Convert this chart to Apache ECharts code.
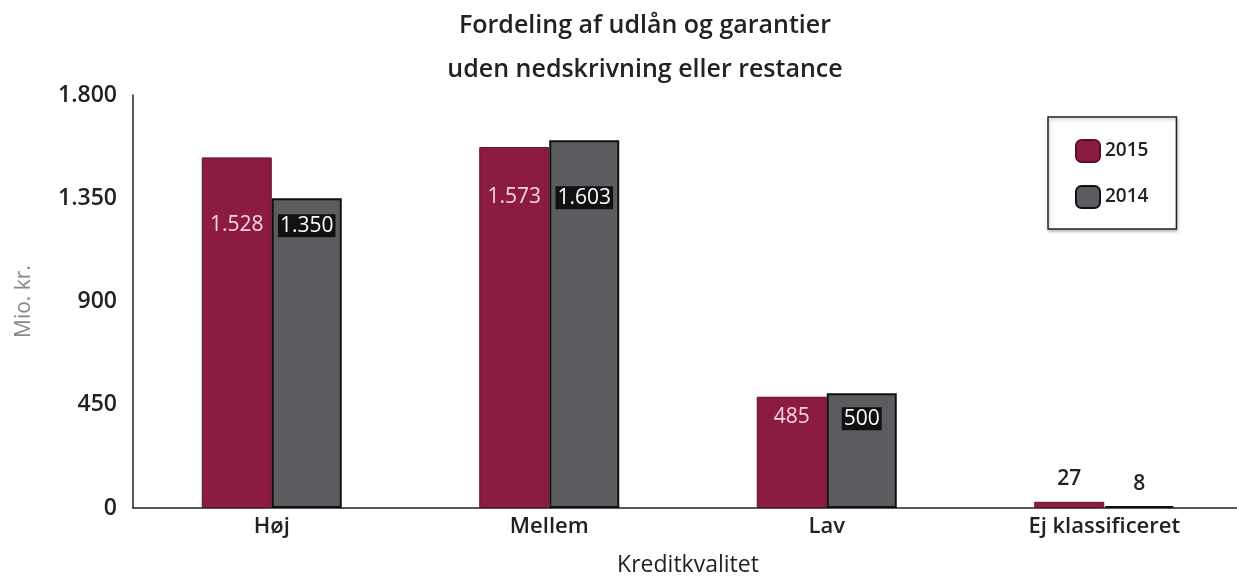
<!DOCTYPE html>
<html>
<head>
<meta charset="utf-8">
<script src="https://cdn.jsdelivr.net/npm/echarts@6/dist/echarts.min.js"></script>
<style>
  html, body { margin: 0; padding: 0; background: #fff; }
  #main { width: 1237px; height: 580px; }
</style>
</head>
<body>
<div id="main"></div>
<script>
// data
var categories = ['Høj', 'Mellem', 'Lav', 'Ej klassificeret'];
var values2015 = [1528, 1573, 485, 27];
var values2014 = [1350, 1603, 500, 8];
var yTicks = [0, 450, 900, 1350, 1800];

// label drop inside each bar (px from bar top), per category
var drop2015 = [57, 39, 10, 0];
var drop2014 = [16, 46, 14, 0];

var FONT = '"Open Sans", "Noto Sans", sans-serif';

function fmt(v) {
  return String(v).replace(/\B(?=(\d{3})+(?!\d))/g, '.');
}

function buildData(vals, drops) {
  return vals.map(function (v, i) {
    if (v < 100) {
      return {
        value: v,
        label: {
          position: 'top', distance: 12, color: '#222', fontWeight: 600,
          fontSize: 21, backgroundColor: 'transparent', padding: 0
        }
      };
    }
    return { value: v, label: { distance: drops[i] } };
  });
}

var myChart = echarts.init(document.getElementById('main'));
var option = {
  animation: false,
  textStyle: { fontFamily: FONT },
  title: {
    text: 'Fordeling af udlån og garantier\nuden nedskrivning eller restance',
    left: 640, textAlign: 'center', top: -1,
    textStyle: { fontFamily: FONT, fontSize: 25, fontWeight: 600, color: '#222', lineHeight: 44 }
  },
  legend: {
    orient: 'vertical',
    left: 1048, top: 117,
    padding: [22, 28, 20, 27],
    itemWidth: 24, itemHeight: 22, itemGap: 22,
    borderColor: '#222', borderWidth: 1.5,
    shadowColor: 'rgba(0,0,0,0.25)', shadowBlur: 3, shadowOffsetX: 1, shadowOffsetY: 2,
    backgroundColor: '#fff',
    data: ['2015', '2014'],
    textStyle: { fontFamily: FONT, fontSize: 19, fontWeight: 600, color: '#222' }
  },
  grid: { left: 133, top: 95, bottom: 72, width: 1110, outerBoundsMode: 'none', containLabel: false },
  xAxis: {
    type: 'category',
    data: categories,
    name: 'Kreditkvalitet',
    nameLocation: 'middle', nameGap: 46,
    nameTextStyle: { fontFamily: FONT, fontSize: 23, color: '#222', fontWeight: 500 },
    axisLine: { lineStyle: { color: '#222', width: 1.5 } },
    axisTick: { show: false },
    axisLabel: { fontFamily: FONT, fontSize: 22, fontWeight: 600, color: '#222', margin: 8 }
  },
  yAxis: {
    type: 'value',
    min: yTicks[0], max: yTicks[yTicks.length - 1], interval: yTicks[1] - yTicks[0],
    name: 'Mio. kr.',
    nameLocation: 'middle', nameGap: 98,
    nameTextStyle: { fontFamily: FONT, fontSize: 21, color: '#888' },
    axisLine: { show: true, lineStyle: { color: '#222', width: 1.5 } },
    axisTick: { show: false },
    splitLine: { show: false },
    axisLabel: {
      fontFamily: FONT, fontSize: 23, fontWeight: 600, color: '#222', margin: 16,
      formatter: function (v) { return fmt(v); }
    }
  },
  series: [
    {
      name: '2015', type: 'bar', barWidth: 70, barGap: '0%',
      data: buildData(values2015, drop2015),
      itemStyle: { color: '#8c1b40', borderColor: '#5e0f28', borderWidth: 1 },
      label: {
        show: true, position: 'insideTop', color: '#f3d6de',
        fontFamily: FONT, fontSize: 21,
        formatter: function (p) { return fmt(p.value); }
      }
    },
    {
      name: '2014', type: 'bar', barWidth: 70,
      data: buildData(values2014, drop2014),
      itemStyle: { color: '#5c5c60', borderColor: '#111', borderWidth: 2 },
      label: {
        show: true, position: 'insideTop', color: '#fff',
        backgroundColor: '#111', padding: [1, 2],
        fontFamily: FONT, fontSize: 21,
        formatter: function (p) { return fmt(p.value); }
      }
    }
  ]
};
myChart.setOption(option);
</script>
</body>
</html>
